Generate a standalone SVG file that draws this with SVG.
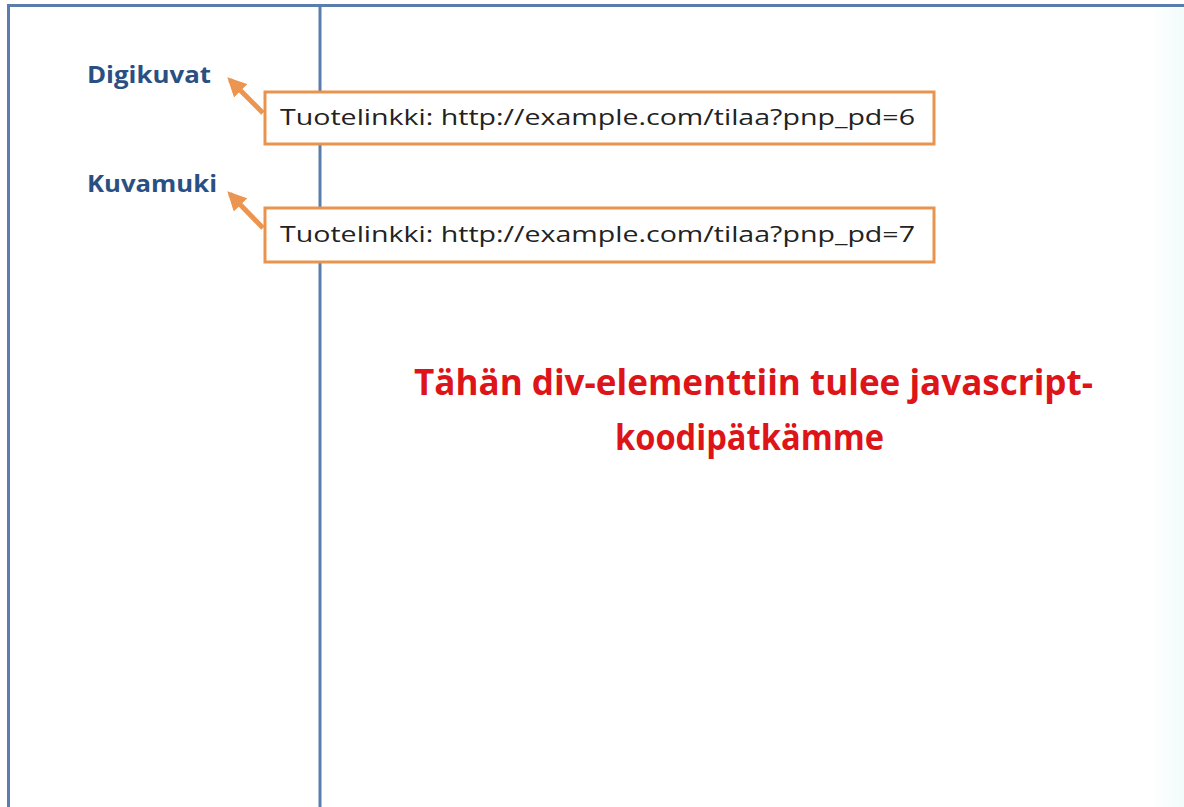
<svg xmlns="http://www.w3.org/2000/svg" width="1184" height="807" viewBox="0 0 1184 807">
<style>
.frame{stroke:#5A7DAE;stroke-width:3;fill:none}
.box{fill:#FFFFFF;stroke:#E8944E;stroke-width:3}
.boxtxt{font-family:"Open Sans","Liberation Sans",sans-serif;font-size:21px;fill:#222222}
.lbl{font-family:"Open Sans","Liberation Sans",sans-serif;font-size:24px;font-weight:bold;fill:#2A4F83}
.red{font-family:"Open Sans","Liberation Sans",sans-serif;font-size:36px;font-weight:bold;fill:#DD1418}
.conn{stroke:#EC9550;stroke-width:5;fill:none}
</style>
<defs>
<marker id="ah" viewBox="0 0 10 10" refX="8" refY="5" markerWidth="3.8" markerHeight="3.8" orient="auto" markerUnits="strokeWidth">
<path d="M0,0 L10,5 L0,10 z" fill="#EC9550"/>
</marker>
<linearGradient id="rtint" x1="0" y1="0" x2="1" y2="0">
<stop offset="0" stop-color="#FFFFFF"/>
<stop offset="1" stop-color="#F2FBFB"/>
</linearGradient>
</defs>
<rect x="0" y="0" width="1184" height="807" fill="#FFFFFF"/>
<rect x="1150" y="8" width="34" height="799" fill="url(#rtint)"/>
<g id="frame">
<line class="frame" x1="7" y1="5.5" x2="1184" y2="5.5"/>
<line class="frame" x1="8.5" y1="4" x2="8.5" y2="807"/>
<line class="frame" x1="320" y1="5" x2="320" y2="807"/>
</g>
<g id="label-digikuvat">
<text class="lbl" x="87" y="83" textLength="124" lengthAdjust="spacingAndGlyphs">Digikuvat</text>
</g>
<g id="label-kuvamuki">
<text class="lbl" x="87" y="192" textLength="130" lengthAdjust="spacingAndGlyphs">Kuvamuki</text>
</g>
<g id="connectors">
<line class="conn" x1="263" y1="113" x2="230" y2="80" marker-end="url(#ah)"/>
<line class="conn" x1="263" y1="228" x2="230" y2="194" marker-end="url(#ah)"/>
</g>
<g id="box-link-6">
<rect class="box" x="265" y="92" width="669" height="52"/>
<text class="boxtxt" x="280" y="125" textLength="635" lengthAdjust="spacingAndGlyphs">Tuotelinkki: http://example.com/tilaa?pnp_pd=6</text>
</g>
<g id="box-link-7">
<rect class="box" x="265" y="208" width="669" height="54"/>
<text class="boxtxt" x="280" y="242" textLength="635" lengthAdjust="spacingAndGlyphs">Tuotelinkki: http://example.com/tilaa?pnp_pd=7</text>
</g>
<g id="div-note">
<text class="red" x="414" y="395" textLength="679" lengthAdjust="spacingAndGlyphs">Tähän div-elementtiin tulee javascript-</text>
<text class="red" x="615" y="450" textLength="269" lengthAdjust="spacingAndGlyphs">koodipätkämme</text>
</g>
</svg>
